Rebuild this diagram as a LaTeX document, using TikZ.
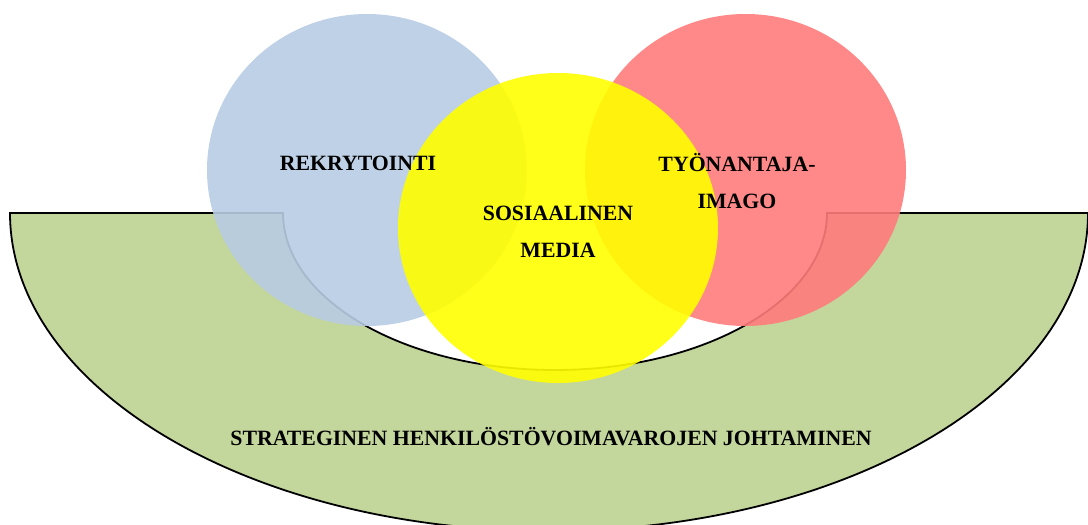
\documentclass[tikz,border=0pt]{standalone}
\usepackage{fontspec}
\setmainfont{Liberation Serif}
\definecolor{hrgreen}{HTML}{C3D69B}
\definecolor{rekblue}{HTML}{B8CCE3}
\definecolor{imgred}{HTML}{FF7B7B}
\definecolor{smyellow}{HTML}{FFFF00}
\tikzset{
  lbl/.style={font=\fontsize{21.8}{37}\selectfont\bfseries, align=center, inner sep=0pt, text=black},
  bubble/.style={opacity=0.9}
}
\begin{document}
\begin{tikzpicture}[x=1pt,y=-1pt]
\useasboundingbox (0,0) rectangle (1088,525);
\clip (0,0) rectangle (1088,525);
% green block arc
\path[fill=hrgreen, draw=black, line width=1.8pt]
  (10,213) arc[start angle=180, end angle=360, x radius=539pt, y radius=318pt]
  -- (827,213)
  arc[start angle=0, end angle=-180, x radius=272pt, y radius=157pt]
  -- cycle;
% circles
\fill[rekblue, bubble] (367,170) ellipse[x radius=160pt, y radius=156pt];
\fill[imgred, bubble] (745.5,170) ellipse[x radius=160.5pt, y radius=156pt];
\fill[smyellow, bubble] (558,228) ellipse[x radius=160pt, y radius=155pt];
% labels
\node[lbl] (rek) at (358,163) {REKRYTOINTI};
\node[lbl] (img) at (737,181) {TYÖNANTAJA-\\IMAGO};
\node[lbl] (some) at (558,232) {SOSIAALINEN\\MEDIA};
\node[lbl] (shj) at (551,437) {STRATEGINEN HENKILÖSTÖVOIMAVAROJEN JOHTAMINEN};
\end{tikzpicture}
\end{document}
